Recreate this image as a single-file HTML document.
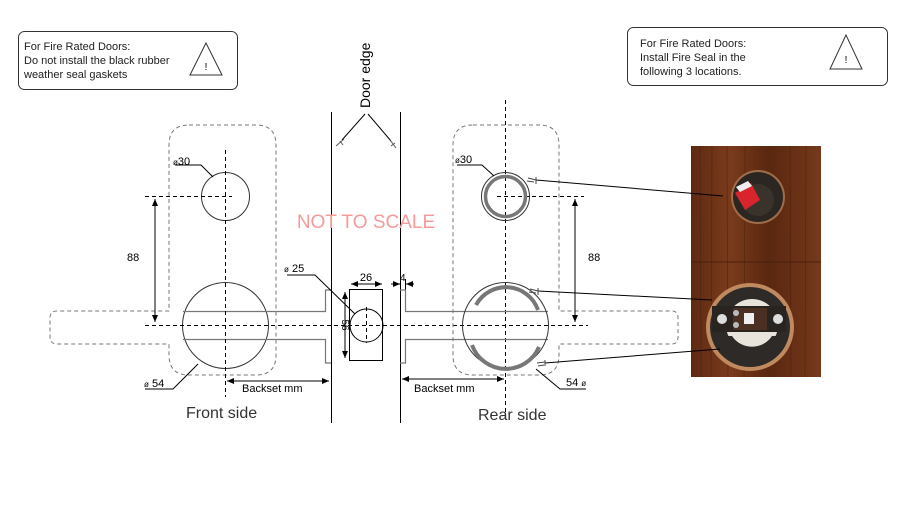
<!DOCTYPE html>
<html><head><meta charset="utf-8">
<style>
html,body{margin:0;padding:0;background:#fff;}
svg{display:block;}
.a{font-family:"Liberation Sans",Arial,sans-serif;}
.o{font-family:"Liberation Sans",Arial,sans-serif;}
</style></head><body>
<svg width="900" height="519" viewBox="0 0 900 519" xmlns="http://www.w3.org/2000/svg">
<defs>
<marker id="ar" markerWidth="8" markerHeight="8" refX="7" refY="4" orient="auto" markerUnits="userSpaceOnUse">
<path d="M0,1 L7,4 L0,7 Z" fill="#000"/></marker>
<linearGradient id="wood" x1="0" x2="1" y1="0" y2="0">
<stop offset="0" stop-color="#5e2a12"/><stop offset="0.3" stop-color="#7a3b1c"/><stop offset="0.6" stop-color="#5a2710"/><stop offset="1" stop-color="#76391b"/></linearGradient>
</defs>

<!-- info boxes -->
<rect x="18.5" y="31.5" width="219" height="58" rx="6" fill="#fff" stroke="#333"/>
<text class="o" font-size="11" fill="#222"><tspan x="24" y="50">For Fire Rated Doors:</tspan><tspan x="24" y="64">Do not install the black rubber</tspan><tspan x="24" y="78">weather seal gaskets</tspan></text>
<path d="M206,43 L190,75 L222,75 Z" fill="none" stroke="#333"/>
<text class="o" x="206" y="70" font-size="10" text-anchor="middle">!</text>

<rect x="627.5" y="27.5" width="260" height="58" rx="6" fill="#fff" stroke="#333"/>
<text class="o" font-size="11" fill="#222"><tspan x="640" y="47">For Fire Rated Doors:</tspan><tspan x="640" y="61">Install Fire Seal in the</tspan><tspan x="640" y="75">following 3 locations.</tspan></text>
<path d="M846,35 L830,69 L862,69 Z" fill="none" stroke="#333"/>
<text class="o" x="846" y="63" font-size="10" text-anchor="middle">!</text>

<!-- door edge -->
<text class="a" font-size="14" transform="translate(370,108) rotate(-90)">Door edge</text>
<line x1="331.5" y1="112" x2="331.5" y2="423" stroke="#000"/>
<line x1="400.5" y1="112" x2="400.5" y2="423" stroke="#000"/>
<path d="M365,114 L342,140 M368,114 L391,141" stroke="#000" fill="none"/>
<path d="M336,146 L344,139 M340,141 L343,145 M390,140 L396,148 M391,146 L395,143" stroke="#555" fill="none"/>

<text x="366" y="228" font-family="'Liberation Sans',sans-serif" font-size="19" fill="#f49a9a" text-anchor="middle">NOT TO SCALE</text>

<!-- FRONT -->
<path d="M189,125 L256,125 Q276,125 276,145 L276,355 Q276,375 256,375 L189,375 Q169,375 169,355 L169,344 L57,344 Q50,344 50,337 L50,318 Q50,311 57,311 L169,311 L169,145 Q169,125 189,125 Z" fill="none" stroke="#777" stroke-dasharray="4,3"/>
<circle cx="225.5" cy="196.5" r="24" fill="none" stroke="#333"/>
<circle cx="225.5" cy="325.5" r="43" fill="none" stroke="#333"/>
<path d="M183,311.5 L325.5,311.5 L325.5,290 L331,290 M183,339.5 L325.5,339.5 L325.5,363 L331,363" fill="none" stroke="#777" stroke-width="1.2"/>
<g stroke="#000" stroke-dasharray="4,3" fill="none">
<line x1="225.5" y1="150" x2="225.5" y2="397"/>
<line x1="145" y1="196.5" x2="232" y2="196.5"/>
<line x1="145" y1="325.5" x2="588" y2="325.5"/>
<line x1="366.5" y1="307" x2="366.5" y2="343"/>
<line x1="505.5" y1="100" x2="505.5" y2="415"/>
<line x1="497" y1="196.5" x2="584" y2="196.5"/>
</g>
<line x1="155" y1="199" x2="155" y2="322" stroke="#000" marker-end="url(#ar)"/>
<line x1="155" y1="322" x2="155" y2="199" stroke="#000" marker-end="url(#ar)"/>
<text class="a" x="127" y="261" font-size="11">88</text>
<text class="a" x="173" y="165" font-size="11"><tspan font-size="8">ø</tspan>30</text>
<path d="M175,165 L201,165 L213,177" fill="none" stroke="#000"/>
<text class="a" x="144" y="387" font-size="11"><tspan font-size="8">ø</tspan> 54</text>
<path d="M145,389 L173,389 L198,364" fill="none" stroke="#000"/>
<line x1="227" y1="381" x2="329" y2="381" stroke="#000" marker-end="url(#ar)"/>
<line x1="329" y1="381" x2="227" y2="381" stroke="#000" marker-end="url(#ar)"/>
<text class="a" x="242" y="392" font-size="11">Backset mm</text>
<text class="o" x="186" y="418" font-size="16" fill="#333">Front side</text>

<!-- latch -->
<rect x="349.5" y="289.5" width="33" height="71" fill="none" stroke="#000"/>
<circle cx="366.5" cy="325.5" r="16.5" fill="none" stroke="#000"/>
<line x1="345" y1="292" x2="345" y2="358" stroke="#000" marker-end="url(#ar)"/>
<line x1="345" y1="358" x2="345" y2="292" stroke="#000" marker-end="url(#ar)"/>
<text class="a" font-size="10" transform="translate(342,325) rotate(90)" text-anchor="middle">56</text>
<line x1="351" y1="284" x2="382" y2="284" stroke="#000" marker-end="url(#ar)"/>
<line x1="382" y1="284" x2="351" y2="284" stroke="#000" marker-end="url(#ar)"/>
<text class="a" x="366" y="281" font-size="11" text-anchor="middle">26</text>
<line x1="391" y1="284" x2="400" y2="284" stroke="#000" marker-end="url(#ar)"/>
<line x1="414" y1="284" x2="406" y2="284" stroke="#000" marker-end="url(#ar)"/>
<line x1="405.5" y1="279" x2="405.5" y2="290" stroke="#000"/>
<text class="a" x="400" y="281" font-size="10">4</text>
<text class="a" x="284" y="272" font-size="11"><tspan font-size="8">ø</tspan> 25</text>
<path d="M287,275 L315,275 L355,314" fill="none" stroke="#000"/>

<!-- REAR -->
<path d="M473,125 L539,125 Q559,125 559,145 L559,311 L672,311 Q678,311 678,318 L678,337 Q678,344 672,344 L559,344 L559,355 Q559,375 539,375 L473,375 Q453,375 453,355 L453,145 Q453,125 473,125 Z" fill="none" stroke="#777" stroke-dasharray="4,3"/>
<path d="M400,290 L405.5,290 L405.5,311.5 L548,311.5 M400,363 L405.5,363 L405.5,339.5 L548,339.5" fill="none" stroke="#777" stroke-width="1.2"/>
<circle cx="505.5" cy="196.5" r="24" fill="none" stroke="#333"/>
<circle cx="505.5" cy="196.5" r="20" fill="none" stroke="#777" stroke-width="3.5"/>
<circle cx="505.5" cy="325.5" r="43" fill="none" stroke="#333"/>
<path d="M476,305 A34,34 0 0 1 538,310" fill="none" stroke="#777" stroke-width="4"/>
<path d="M472,345 A36,36 0 0 0 539,347" fill="none" stroke="#777" stroke-width="4"/>
<line x1="575" y1="199" x2="575" y2="322" stroke="#000" marker-end="url(#ar)"/>
<line x1="575" y1="322" x2="575" y2="199" stroke="#000" marker-end="url(#ar)"/>
<text class="a" x="588" y="261" font-size="11">88</text>
<text class="a" x="455" y="163" font-size="11"><tspan font-size="8">ø</tspan>30</text>
<path d="M457,165 L482,165 L494,176" fill="none" stroke="#000"/>
<text class="a" x="566" y="386" font-size="11">54 <tspan font-size="8">ø</tspan></text>
<path d="M536,369 L560,389 L586,389" fill="none" stroke="#000"/>
<line x1="402" y1="379" x2="504" y2="379" stroke="#000" marker-end="url(#ar)"/>
<line x1="504" y1="379" x2="402" y2="379" stroke="#000" marker-end="url(#ar)"/>
<text class="a" x="414" y="392" font-size="11">Backset mm</text>
<text class="o" x="478" y="420" font-size="16" fill="#333">Rear side</text>

<!-- photo -->
<rect x="691" y="146" width="130" height="231" fill="url(#wood)"/>
<g stroke="#4a1f0c" stroke-width="0.8" opacity="0.6">
<line x1="700" y1="146" x2="701" y2="377"/><line x1="712" y1="146" x2="711" y2="377"/>
<line x1="727" y1="146" x2="728" y2="377"/><line x1="745" y1="146" x2="744" y2="377"/>
<line x1="790" y1="146" x2="791" y2="377"/><line x1="806" y1="146" x2="805" y2="377"/>
</g>
<line x1="691" y1="262" x2="821" y2="262" stroke="#4a1f0c" stroke-width="1"/>
<circle cx="758" cy="197" r="27" fill="#a06d4a"/>
<circle cx="758" cy="197" r="25" fill="#2c2622"/>
<circle cx="758" cy="200" r="16" fill="#3a332c"/>
<path d="M735,193 L751,183 L760,200 L745,210 Z" fill="#d8242c"/>
<path d="M736,187 L748,181 L752,186 L740,192 Z" fill="#eee"/>
<circle cx="750" cy="327" r="44" fill="#c08a60"/>
<circle cx="750" cy="327" r="40" fill="#2e2a27"/>
<circle cx="752" cy="325" r="26" fill="#e8e4dc"/>
<rect x="712" y="306" width="74" height="26" fill="#2a2420"/>
<rect x="733" y="308" width="34" height="22" fill="#4a2f22"/>
<rect x="744" y="313" width="10" height="11" fill="#eee"/>
<circle cx="722" cy="319" r="5" fill="#ddd"/>
<circle cx="778" cy="319" r="5" fill="#ddd"/>
<circle cx="736" cy="313" r="3" fill="#bbb"/><circle cx="736" cy="325" r="3" fill="#bbb"/>
<path d="M714,336 A38,38 0 0 0 788,336 L772,336 A24,24 0 0 1 732,336 Z" fill="#2e2a27"/>

<!-- leaders -->
<g stroke="#000" fill="none">
<line x1="536" y1="180" x2="723" y2="196"/>
<line x1="538" y1="291" x2="712" y2="300"/>
<line x1="545" y1="363" x2="720" y2="349"/>
</g>
<g stroke="#444" fill="none">
<path d="M528,178 L536,180 M527,181 L534,182 M536,177 L536,184"/>
<path d="M530,289 L538,291 M529,292 L536,293 M538,288 L538,295"/>
<path d="M537,363 L545,362 M538,366 L544,365 M545,360 L545,366"/>
</g>
</svg>
</body></html>
